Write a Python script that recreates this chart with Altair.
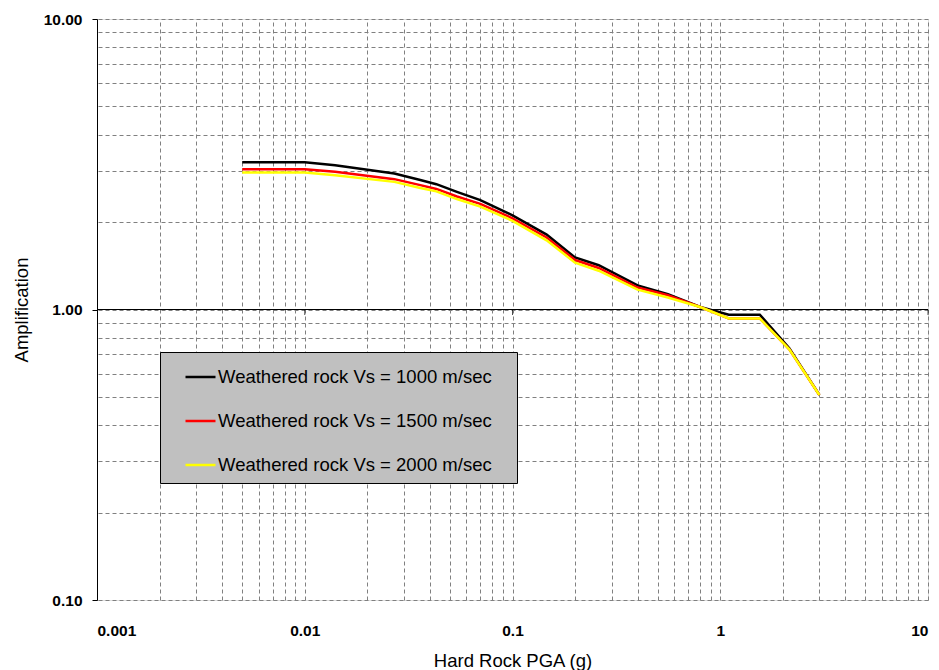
import altair as alt
import pandas as pd

# Hard rock PGA (g)
pga = [0.005, 0.01, 0.014, 0.027, 0.036, 0.043, 0.054, 0.07, 0.1, 0.146,
       0.2, 0.26, 0.4, 0.56, 0.8, 1.1, 1.55, 2.15, 3.0]
amp_1000 = [3.21, 3.21, 3.14, 2.94, 2.79, 2.70, 2.54, 2.38, 2.11, 1.81,
            1.51, 1.42, 1.21, 1.13, 1.02, 0.96, 0.96, 0.735, 0.508]
amp_1500 = [3.04, 3.04, 2.98, 2.81, 2.68, 2.60, 2.45, 2.31, 2.06, 1.77,
            1.48, 1.39, 1.19, 1.12, 1.02, 0.932, 0.932, 0.729, 0.508]
amp_2000 = [2.96, 2.96, 2.90, 2.75, 2.62, 2.55, 2.40, 2.26, 2.02, 1.73,
            1.45, 1.36, 1.17, 1.10, 1.02, 0.932, 0.932, 0.729, 0.508]

series_names = ["Weathered rock Vs = 1000 m/sec",
                "Weathered rock Vs = 1500 m/sec",
                "Weathered rock Vs = 2000 m/sec"]
series_colors = ["#000000", "#FF0000", "#FFFF00"]

x_major = [0.001, 0.01, 0.1, 1, 10]
y_major = [0.1, 1, 10]
x_grid = [m * d for d in [0.001, 0.01, 0.1, 1] for m in range(1, 10)] + [10]
y_grid = [m * d for d in [0.1, 1] for m in range(1, 10)] + [10]
axis_line_ticks = [0.01, 0.1, 1, 10]

rows = []
for name, vals in zip(series_names, [amp_1000, amp_1500, amp_2000]):
    for x, y in zip(pga, vals):
        rows.append({"pga": x, "amp": y, "series": name})
df = pd.DataFrame(rows)

FONT = "Liberation Sans"
BG = "#C0C0C0"
xs = alt.Scale(type="log", domain=[0.001, 10], nice=False)
ys = alt.Scale(type="log", domain=[0.1, 10], nice=False)

grid_layer = alt.Chart(df).mark_line(opacity=0).encode(
    x=alt.X("pga:Q", scale=xs, axis=alt.Axis(
        orient="top", values=x_grid, grid=True, labels=False, ticks=False,
        domain=False, title=None, gridDash=[4, 3], gridColor="#808080",
        gridWidth=1, gridOpacity=1)),
    y=alt.Y("amp:Q", scale=ys, axis=alt.Axis(
        orient="right", values=y_grid, grid=True, labels=False, ticks=False,
        domain=False, title=None, gridDash=[4, 3], gridColor="#808080",
        gridWidth=1, gridOpacity=1)),
)

axis_rule = alt.Chart(pd.DataFrame({"y": [1]})).mark_rule(
    color="black", strokeWidth=1.2).encode(
    y=alt.Y("y:Q", scale=ys, axis=None))

axis_ticks = alt.Chart(pd.DataFrame({"x": axis_line_ticks, "y": [1] * len(axis_line_ticks)})).mark_tick(
    orient="vertical", color="black", size=5, thickness=1, yOffset=3).encode(
    x=alt.X("x:Q", scale=xs, axis=None),
    y=alt.Y("y:Q", scale=ys, axis=None))

lines = alt.Chart(df).mark_line(strokeWidth=2.5).encode(
    x=alt.X("pga:Q", scale=xs, axis=alt.Axis(
        orient="bottom", values=x_major, format="~g", grid=False, ticks=False,
        tickSize=0, domain=False, title="Hard Rock PGA (g)",
        labelFont=FONT, labelFontSize=15.5, labelFontWeight="bold",
        labelColor="black", labelPadding=23,
        titleFont=FONT, titleFontSize=18.5, titleFontWeight="normal",
        titleColor="black", titlePadding=13)),
    y=alt.Y("amp:Q", scale=ys, axis=alt.Axis(
        orient="left", values=y_major, format=".2f", grid=False, ticks=True,
        tickSize=5, tickColor="black", domain=True, domainColor="black",
        title="Amplification",
        labelFont=FONT, labelFontSize=15.5, labelFontWeight="bold",
        labelColor="black", labelPadding=10,
        titleFont=FONT, titleFontSize=18.5, titleFontWeight="normal",
        titleColor="black", titlePadding=12)),
    color=alt.Color("series:N",
                    scale=alt.Scale(domain=series_names, range=series_colors),
                    legend=alt.Legend(
                        title=".", titleOrient="right", titleColor=BG,
                        titleFontSize=10, titlePadding=14,
                        orient="none", legendX=63, legendY=333,
                        fillColor=BG, strokeColor="black",
                        padding=8.5, rowPadding=18, symbolType="stroke",
                        symbolSize=900, symbolStrokeWidth=2.5, symbolOffset=15.5,
                        labelOffset=1, labelFont=FONT, labelFontSize=18.5,
                        labelColor="black", labelLimit=400)),
    detail="series:N",
)

chart = alt.layer(grid_layer, axis_rule, axis_ticks, lines).resolve_axis(
    x="independent", y="independent"
).properties(
    width=831, height=581,
    autosize=alt.AutoSizeParams(type="none"),
    padding={"left": 97, "top": 19, "right": 11, "bottom": 70},
).configure_view(
    fill=BG, stroke="#808080", strokeWidth=1
).configure(background="white")

chart.save("out.html", embed_options={"renderer": "svg", "actions": False})
